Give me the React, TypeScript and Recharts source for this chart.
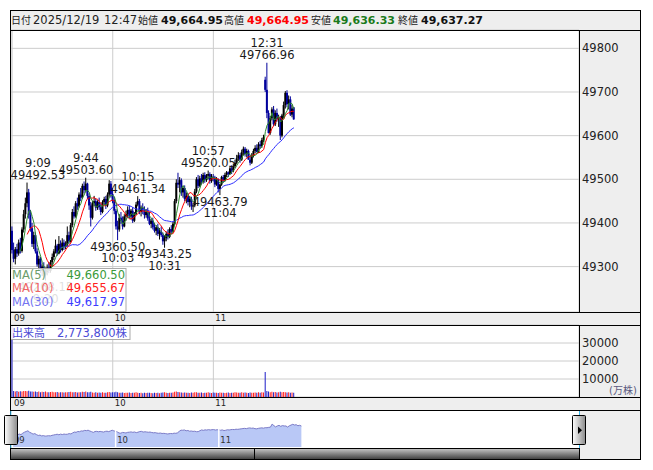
import React from 'react';
import {
  ComposedChart, BarChart, AreaChart, Bar, Line, Area, Scatter,
  XAxis, YAxis, CartesianGrid, ReferenceLine, Cell,
} from 'recharts';

const FONT = '"DejaVu Sans", "Noto Sans CJK JP", sans-serif';

// 1-minute candles. slot 0 = 9:00 ... 150 = 11:30, 151 = 12:30 ... 168 = 12:47
const opens = [
  49382, 49338, 49318, 49340, 49330, 49355, 49336, 49385, 49420, 49445,
  49470, 49418, 49388, 49352, 49372, 49335, 49305, 49318, 49290, 49300,
  49282, 49288, 49298, 49290, 49310, 49322, 49335, 49348, 49330, 49352,
  49338, 49355, 49345, 49350, 49372, 49358, 49395, 49425, 49415, 49445,
  49438, 49465, 49458, 49485, 49475, 49490, 49462, 49440, 49412, 49445,
  49450, 49435, 49448, 49436, 49425, 49448, 49455, 49440, 49465, 49490,
  49466, 49452, 49428, 49392, 49385, 49412, 49405, 49392, 49415, 49420,
  49430, 49415, 49428, 49405, 49420, 49442, 49450, 49425, 49435, 49428,
  49418, 49425, 49410, 49398, 49405, 49390, 49382, 49390, 49375, 49380,
  49372, 49358, 49365, 49375, 49368, 49386, 49380, 49398, 49450, 49492,
  49488, 49498, 49470, 49480, 49455, 49462, 49448, 49455, 49438, 49440,
  49472, 49500, 49485, 49502, 49495, 49510, 49498, 49508, 49512, 49496,
  49506, 49504, 49488, 49500, 49478, 49488, 49505, 49498, 49510, 49516,
  49512, 49525, 49520, 49530, 49538, 49548, 49555, 49545, 49562, 49570,
  49558, 49565, 49545, 49538, 49556, 49565, 49572, 49562, 49580, 49576,
  49590, 49728, 49705, 49652, 49606, 49640, 49660, 49626, 49652, 49638.4,
  49640, 49600, 49646.2, 49670, 49698, 49672, 49683, 49648.23, 49664.95,
];
const highs = [
  49392, 49355, 49345, 49352, 49362, 49366, 49390, 49430, 49458, 49492.53,
  49478, 49430, 49400, 49380, 49378, 49342, 49325, 49322, 49305, 49310,
  49298, 49305, 49310, 49315, 49330, 49340, 49362, 49352, 49370, 49360,
  49365, 49362, 49358, 49392, 49380, 49400, 49432, 49438, 49450, 49458,
  49470, 49480, 49490, 49495, 49503.6, 49492, 49468, 49448, 49450, 49462,
  49455, 49452, 49458, 49445, 49452, 49460, 49462, 49470, 49498, 49496,
  49480, 49460, 49432, 49405, 49420, 49425, 49415, 49420, 49428, 49438,
  49440, 49432, 49436, 49425, 49448, 49461.34, 49455, 49440, 49445, 49438,
  49432, 49435, 49425, 49410, 49412, 49400, 49395, 49398, 49388, 49392,
  49378, 49372, 49380, 49385, 49390, 49395, 49402, 49455, 49500, 49515,
  49505, 49502, 49485, 49486, 49470, 49468, 49462, 49460, 49445, 49478,
  49505, 49510, 49508, 49512, 49515, 49516, 49512, 49520.05, 49516, 49512,
  49512, 49508, 49505, 49502, 49490, 49508, 49510, 49515, 49519, 49518,
  49530, 49532, 49536, 49545, 49556, 49562, 49560, 49568, 49575, 49574,
  49570, 49568, 49555, 49560, 49570, 49578, 49580, 49585, 49588, 49595,
  49602, 49735, 49766.96, 49658, 49645, 49665, 49668, 49658, 49662, 49648,
  49645, 49650, 49678, 49702, 49704, 49692, 49690, 49670, 49664.95,
];
const lows = [
  49330, 49310, 49305, 49322, 49325, 49330, 49332, 49378, 49410, 49436,
  49410, 49380, 49345, 49340, 49330, 49300, 49290, 49285, 49278, 49275,
  49268.15, 49280, 49285, 49286, 49300, 49315, 49330, 49325, 49328, 49332,
  49335, 49338, 49340, 49346, 49352, 49355, 49390, 49410, 49412, 49430,
  49435, 49450, 49455, 49468, 49470, 49455, 49430, 49392, 49408, 49438,
  49428, 49430, 49430, 49418, 49422, 49440, 49432, 49436, 49460, 49458,
  49445, 49420, 49385, 49360.5, 49380, 49398, 49385, 49390, 49405, 49412,
  49410, 49408, 49400, 49402, 49418, 49438, 49420, 49415, 49420, 49410,
  49412, 49405, 49395, 49388, 49385, 49378, 49372, 49370, 49362, 49368,
  49350, 49343.25, 49358, 49362, 49365, 49375, 49378, 49395, 49445, 49480,
  49470, 49462, 49458, 49450, 49445, 49440, 49436, 49430, 49425, 49436,
  49468, 49480, 49482, 49488, 49490, 49492, 49494, 49500, 49490, 49492,
  49495, 49482, 49485, 49470, 49463.79, 49485, 49492, 49495, 49505, 49505,
  49510, 49512, 49516, 49526, 49534, 49542, 49538, 49542, 49555, 49552,
  49550, 49545, 49532, 49535, 49550, 49560, 49562, 49560, 49570, 49572,
  49585, 49700, 49640, 49605, 49602, 49635, 49622, 49622, 49632, 49620,
  49590, 49596, 49640, 49662, 49665, 49660, 49645, 49642, 49636.33,
];
const closes = [
  49338, 49318, 49340, 49330, 49355, 49336, 49385, 49420, 49445, 49470,
  49418, 49388, 49352, 49372, 49335, 49305, 49318, 49290, 49300, 49282,
  49288, 49298, 49290, 49310, 49322, 49335, 49348, 49330, 49352, 49338,
  49355, 49345, 49350, 49372, 49358, 49395, 49425, 49415, 49445, 49438,
  49465, 49458, 49485, 49475, 49490, 49462, 49440, 49412, 49445, 49450,
  49435, 49448, 49436, 49425, 49448, 49455, 49440, 49465, 49490, 49466,
  49452, 49428, 49392, 49385, 49412, 49405, 49392, 49415, 49420, 49430,
  49415, 49428, 49405, 49420, 49442, 49450, 49425, 49435, 49428, 49418,
  49425, 49410, 49398, 49405, 49390, 49382, 49390, 49375, 49380, 49372,
  49358, 49365, 49375, 49368, 49386, 49380, 49398, 49450, 49492, 49488,
  49498, 49470, 49480, 49455, 49462, 49448, 49455, 49438, 49440, 49472,
  49500, 49485, 49502, 49495, 49510, 49498, 49508, 49512, 49496, 49506,
  49504, 49488, 49500, 49478, 49488, 49505, 49498, 49510, 49516, 49512,
  49525, 49520, 49530, 49538, 49548, 49555, 49545, 49562, 49570, 49558,
  49565, 49545, 49538, 49556, 49565, 49572, 49562, 49580, 49576, 49590,
  49596, 49705, 49652, 49606, 49640, 49660, 49626, 49652, 49638.4, 49640,
  49600, 49646.2, 49670, 49698, 49672, 49683, 49648.23, 49662, 49637.27,
];
// 出来高 per minute, 万株
const volumes = [
  42000,
  3400, 3100, 3300, 2900, 3200, 3000, 3400, 3300, 3200, 3500,
  3100, 3000, 2900, 3100, 2800, 3000, 2700, 2900, 2800, 3100,
  2700, 2600, 2800, 2900, 2700, 2600, 2800, 2500, 2700, 2600,
  2500, 2700, 2600, 2800, 2900, 2700, 2600, 2800, 2500, 2600,
  2700, 2900, 2800, 3000, 2700, 2600, 2900, 2500, 2400, 2600,
  2300, 2500, 2400, 2600, 2300, 2400, 2700, 2800, 2500, 2600,
  2700, 2900, 2600, 2400, 2300, 2500, 2200, 2400, 2300, 2500,
  2200, 2300, 2400, 2600, 2300, 2200, 2400, 2100, 2300, 2200,
  2400, 2300, 2200, 2100, 2300, 2200, 2400, 2100, 2300, 2500,
  2600, 2300, 2200, 2400, 2300, 2500, 2900, 3000, 2800, 2600,
  2500, 2400, 2500, 2300, 2400, 2200, 2500, 2300, 2600, 2700,
  2400, 2300, 2500, 2200, 2400, 2300, 2600, 2400, 2200, 2500,
  2300, 2400, 2200, 2500, 2300, 2400, 2200, 2300, 2500, 2200,
  2400, 2300, 2600, 2500, 2300, 2400, 2600, 2300, 2500, 2400,
  2200, 2500, 2400, 2300, 2500, 2400, 2600, 2300, 2700, 2500,
  13900,
  3300, 3000, 2700, 2900, 2600, 2800, 2500, 2700, 2900, 2600,
  2800, 2700, 2500, 2600, 2400, 2500, 2300,
];

const hourTicks = [0, 60, 120];
const hourLabels = ['09', '10', '11'];
const priceTicks = [49300, 49400, 49500, 49600, 49700, 49800];
const volumeTicks = [10000, 20000, 30000];

// labelled extremes
const peakSlots = [9, 44, 75, 117, 152];
const peakTimes = ['9:09', '9:44', '10:15', '10:57', '12:31'];
const troughSlots = [20, 63, 91, 124];
const troughTimes = ['9:20', '10:03', '10:31', '11:04'];

const tradeDate = '2025/12/19';
const lastTime = '12:47';
const totalVolume = '2,773,800株';

const movingAverage = (n: number) =>
  closes.map((_, i) => (i < n - 1 ? null : closes.slice(i - n + 1, i + 1).reduce((a, b) => a + b, 0) / n));
const ma5 = movingAverage(5);
const ma10 = movingAverage(10);
const ma30 = movingAverage(30);

const candles = closes.map((c, i) => ({
  slot: i, o: opens[i], h: highs[i], l: lows[i], c,
  range: [lows[i], highs[i]], vol: volumes[i],
  ma5: ma5[i], ma10: ma10[i], ma30: ma30[i],
}));

const marks = [
  ...peakSlots.map((s, k) => ({ slot: s, price: highs[s], time: peakTimes[k], kind: 'high' })),
  ...troughSlots.map((s, k) => ({ slot: s, price: lows[s], time: troughTimes[k], kind: 'low' })),
];

const fmt = (v: number) => v.toLocaleString('en-US', { minimumFractionDigits: 2, maximumFractionDigits: 2 });
const last = closes.length - 1;

const Candle = (props: any) => {
  const { x, y, width, height, payload } = props;
  if (x == null || payload == null) return null;
  const cx = x + width / 2;
  const span = payload.h - payload.l;
  const py = (p: number) => (span > 0 ? y + ((payload.h - p) / span) * height : y);
  const color = payload.c >= payload.o ? '#000000' : '#00009c';
  const top = py(Math.max(payload.o, payload.c));
  const bot = py(Math.min(payload.o, payload.c));
  return (
    <g>
      <line x1={cx} x2={cx} y1={y} y2={y + height} stroke={color} strokeWidth={1} />
      <rect x={cx - 1} y={top} width={2} height={Math.max(1, bot - top)} fill={color} />
    </g>
  );
};

const MarkLabel = (props: any) => {
  const { cx, cy, payload } = props;
  if (cx == null || cy == null) return null;
  const x = Math.max(cx, 38);
  const price = payload.price.toFixed(2);
  const rows: [string, number][] = payload.kind === 'high'
    ? [[payload.time, cy - 15.5], [price, cy - 3.5]]
    : [[price, cy + 10.5], [payload.time, cy + 22]];
  return (
    <g>
      {rows.map(([t, ty]) => (
        <text key={t} x={x} y={ty} textAnchor="middle" fontSize={11.5} fontFamily={FONT} fill="#1a1a1a">{t}</text>
      ))}
    </g>
  );
};

const HourTick = (props: any) => {
  const { x, y, payload } = props;
  return (
    <text x={x + 2} y={y + 8.5} fontSize={8.5} fontFamily={FONT} fill="#222">
      {hourLabels[hourTicks.indexOf(payload.value)]}
    </text>
  );
};

const NavLabel = (props: any) => {
  const { viewBox, text } = props;
  if (!viewBox) return null;
  return (
    <text x={viewBox.x + 1.5} y={viewBox.y + viewBox.height - 4} fontSize={8.5} fontFamily={FONT} fill="#333">{text}</text>
  );
};

const abs: React.CSSProperties = { position: 'absolute', left: 0, top: 0 };
const axisTick = { fontSize: 11.5, fill: '#222', fontFamily: FONT };

export default function App() {
  return (
    <div style={{ position: 'absolute', left: 0, top: 0, width: 653, height: 470, overflow: 'hidden', background: '#fff', fontFamily: FONT }}>
      <svg width={653} height={470} style={abs}>
        <rect x={10} y={10} width={630} height={20} fill="#eeeeee" />
        <rect x={579} y={30} width={61} height={282} fill="#eeeeee" />
        <rect x={10} y={312} width={630} height={13} fill="#eeeeee" />
        <rect x={579} y={325} width={61} height={72} fill="#eeeeee" />
        <rect x={10} y={397} width={630} height={13} fill="#eeeeee" />
        <rect x={579} y={410} width={61} height={49} fill="#eeeeee" />
      </svg>

      <div style={abs}>
        <ComposedChart width={653} height={470} data={candles} margin={{ top: 30, right: 13, bottom: 145, left: 11 }}>
          <CartesianGrid stroke="#cccccc" />
          <XAxis dataKey="slot" type="number" domain={[-0.66, 338]} allowDataOverflow ticks={hourTicks} interval={0}
            axisLine={false} tickLine={false} tickSize={0} tickMargin={0} height={13} tick={<HourTick />} />
          <YAxis orientation="right" type="number" domain={[49196, 49842]} allowDataOverflow ticks={priceTicks} interval={0}
            width={61} axisLine={false} tickLine={false} tickSize={0} tickMargin={3} tick={axisTick} />
          <Bar dataKey="range" shape={<Candle />} isAnimationActive={false} />
          <Line dataKey="ma30" type="linear" stroke="#2b2bff" strokeWidth={1} dot={false} isAnimationActive={false} />
          <Line dataKey="ma10" type="linear" stroke="#ff0000" strokeWidth={1} dot={false} isAnimationActive={false} />
          <Line dataKey="ma5" type="linear" stroke="#2e8a2e" strokeWidth={1} dot={false} isAnimationActive={false} />
          <Scatter data={marks} dataKey="price" shape={<MarkLabel />} isAnimationActive={false} />
        </ComposedChart>
      </div>

      <div style={abs}>
        <BarChart width={653} height={470} data={candles} margin={{ top: 325, right: 13, bottom: 60, left: 11 }}>
          <CartesianGrid stroke="#cccccc" />
          <XAxis dataKey="slot" type="number" domain={[-0.66, 338]} allowDataOverflow ticks={hourTicks} interval={0}
            axisLine={false} tickLine={false} tickSize={0} tickMargin={0} height={13} tick={<HourTick />} />
          <YAxis orientation="right" type="number" domain={[0, 40000]} allowDataOverflow ticks={volumeTicks} interval={0}
            width={61} axisLine={false} tickLine={false} tickSize={0} tickMargin={3} tick={axisTick} />
          <Bar dataKey="vol" isAnimationActive={false}>
            {candles.map((d) => (
              <Cell key={d.slot} fill={d.c >= d.o ? '#ff1a1a' : '#1c1cc8'} />
            ))}
          </Bar>
        </BarChart>
      </div>

      <div style={abs}>
        <AreaChart width={653} height={470} data={candles} margin={{ top: 410, right: 73, bottom: 23, left: 11.4 }}>
          <XAxis dataKey="slot" type="number" domain={[-0.6, 330]} allowDataOverflow hide />
          <YAxis type="number" domain={[48900, 50200]} allowDataOverflow hide />
          <Area dataKey="c" type="linear" stroke="#7b7bc6" strokeWidth={1} fill="#b9c8f6" fillOpacity={1} isAnimationActive={false} />
          {hourTicks.map((t, k) => (
            <ReferenceLine key={t} x={t} stroke="#ffffff" strokeWidth={1.5} label={<NavLabel text={hourLabels[k]} />} />
          ))}
        </AreaChart>
      </div>

      <svg width={653} height={470} style={{ ...abs, pointerEvents: 'none' }} fontFamily={FONT}>
        <defs>
          <linearGradient id="handle" x1="0" x2="1" y1="0" y2="0">
            <stop offset="0" stopColor="#ffffff" />
            <stop offset="1" stopColor="#8a8a8a" />
          </linearGradient>
          <linearGradient id="scroll" x1="0" x2="0" y1="0" y2="1">
            <stop offset="0" stopColor="#c8c8c8" />
            <stop offset="1" stopColor="#3c3c3c" />
          </linearGradient>
        </defs>

        {/* header */}
        <text x={11} y={24} fontSize={10} fill="#222">日付</text>
        <text x={33} y={24} fontSize={11.5} fill="#222">{tradeDate}</text>
        <text x={104} y={24} fontSize={11.5} fill="#222">{lastTime}</text>
        <text x={138} y={24} fontSize={10} fill="#222">始値</text>
        <text x={161} y={24} fontSize={11} fontWeight="bold" fill="#111">{fmt(opens[last])}</text>
        <text x={224} y={24} fontSize={10} fill="#222">高値</text>
        <text x={247} y={24} fontSize={11} fontWeight="bold" fill="#ff0000">{fmt(highs[last])}</text>
        <text x={311} y={24} fontSize={10} fill="#222">安値</text>
        <text x={333} y={24} fontSize={11} fontWeight="bold" fill="#1b7a1b">{fmt(lows[last])}</text>
        <text x={398} y={24} fontSize={10} fill="#222">終値</text>
        <text x={421} y={24} fontSize={11} fontWeight="bold" fill="#111">{fmt(closes[last])}</text>

        {/* MA legend */}
        <rect x={10.5} y={268.5} width={115.5} height={43} fill="#ffffff" fillOpacity={0.86} stroke="#aaaaaa" />
        <text x={12} y={278.5} fontSize={11.5} fill="#6a9c6a">MA(5)</text>
        <text x={125} y={278.5} fontSize={11.5} fill="#3a9a3a" textAnchor="end">{fmt(ma5[last] as number)}</text>
        <text x={12} y={292} fontSize={11.5} fill="#f06464">MA(10)</text>
        <text x={125} y={292} fontSize={11.5} fill="#ff2020" textAnchor="end">{fmt(ma10[last] as number)}</text>
        <text x={12} y={305.5} fontSize={11.5} fill="#7474f0">MA(30)</text>
        <text x={125} y={305.5} fontSize={11.5} fill="#3c3cff" textAnchor="end">{fmt(ma30[last] as number)}</text>

        {/* volume legend */}
        <rect x={10.5} y={325.5} width={119.5} height={14} fill="#ffffff" fillOpacity={0.85} stroke="#aaaaaa" />
        <text x={12} y={336.5} fontSize={11} fill="#4b4bd6">出来高</text>
        <text x={57} y={336.5} fontSize={11.5} fill="#4b4bd6">{totalVolume}</text>
        <text x={609} y={394} fontSize={10} fill="#5a5a80">(万株)</text>

        {/* frame */}
        <rect x={10.5} y={10.5} width={630} height={449} fill="none" stroke="#000" />
        <line x1={10} x2={641} y1={30.5} y2={30.5} stroke="#000" />
        <line x1={10} x2={641} y1={312.5} y2={312.5} stroke="#000" />
        <line x1={10} x2={641} y1={325.5} y2={325.5} stroke="#000" />
        <line x1={10} x2={641} y1={397.5} y2={397.5} stroke="#000" />
        <line x1={10} x2={641} y1={410.5} y2={410.5} stroke="#000" />
        <line x1={579.5} x2={579.5} y1={30} y2={313} stroke="#000" />
        <line x1={579.5} x2={579.5} y1={325} y2={398} stroke="#000" />

        {/* navigator */}
        <line x1={10.8} x2={10.8} y1={411} y2={448} stroke="#35b5ea" />
        <line x1={579.5} x2={579.5} y1={411} y2={448} stroke="#35b5ea" />
        <rect x={10.5} y={448.5} width={569} height={11} fill="url(#scroll)" stroke="#000" />
        <line x1={254.5} x2={254.5} y1={448} y2={460} stroke="#000" />
        <rect x={4.5} y={415.5} width={13} height={29} rx={1} fill="url(#handle)" stroke="#000" />
        <rect x={572.5} y={415.5} width={13} height={29} rx={1} fill="url(#handle)" stroke="#000" />
        <polygon points="578,426.5 578,434 582,430.2" fill="#000" />
      </svg>
    </div>
  );
}
